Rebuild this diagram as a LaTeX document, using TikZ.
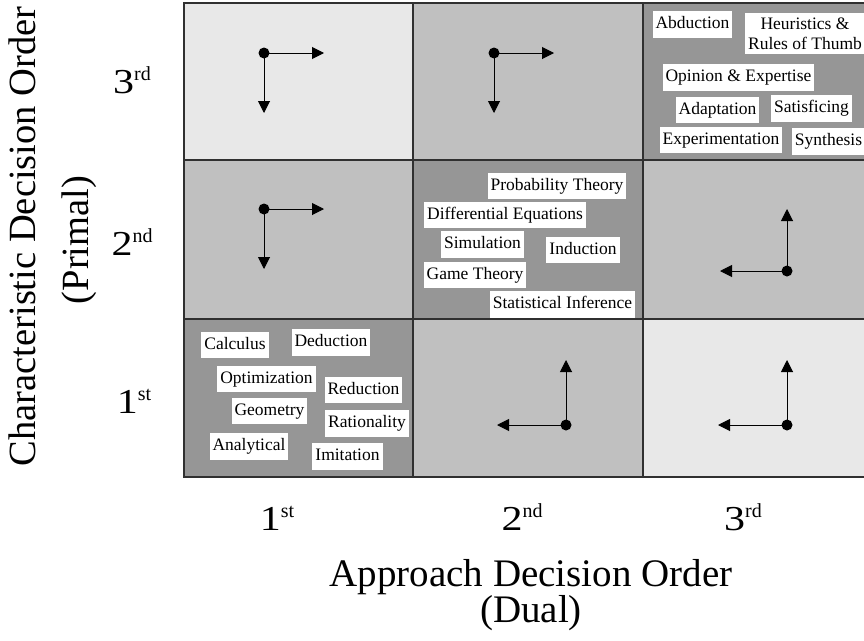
\documentclass[tikz,border=0pt]{standalone}
\usepackage{fontspec}
\setmainfont{Liberation Serif}
\usetikzlibrary{arrows.meta}
\definecolor{cLight}{HTML}{E8E8E8}
\definecolor{cMid}{HTML}{C0C0C0}
\definecolor{cDark}{HTML}{969696}
\definecolor{cLine}{HTML}{303030}
\newcommand\ordlab[2]{\scalebox{1.2}[1]{#1}\raisebox{13pt}{\fontsize{20}{20}\selectfont #2}}
\begin{document}
\begin{tikzpicture}[x=1pt,y=-1pt,
  cell/.style={draw=cLine, line width=1.6pt, inner sep=0pt, minimum width=#1},
  lab/.style={fill=white, inner xsep=3pt, inner ysep=5pt, text height=12.5pt, text depth=4pt,
              font=\fontsize{17.5}{20}\selectfont},
  lab2/.style={fill=white, inner xsep=3pt, inner ysep=5pt, align=center,
              font=\fontsize{17.5}{20}\selectfont},
  dotn/.style={circle, fill=black, inner sep=0pt, minimum size=11pt},
  arr/.style={line width=1pt, -{Triangle[length=12pt,width=12pt]}, shorten <=-2pt},
  tick/.style={anchor=base, font=\fontsize{35}{35}\selectfont, inner sep=0pt},
  title/.style={font=\fontsize{39}{33}\selectfont, inner sep=0pt}
]
\useasboundingbox (0,0) rectangle (864,640);
\fill[white] (0,0) rectangle (864,640);
\begin{scope}
\clip (0,0) rectangle (864,640);
% row 3 (top)
\node[cell=229pt, minimum height=157pt, fill=cLight] (c31) at (298.5,81.5) {};
\node[cell=230pt, minimum height=157pt, fill=cMid]   (c32) at (528,81.5) {};
\node[cell=230pt, minimum height=157pt, fill=cDark]  (c33) at (758,81.5) {};
% row 2
\node[cell=229pt, minimum height=159pt, fill=cMid]   (c21) at (298.5,239.5) {};
\node[cell=230pt, minimum height=159pt, fill=cDark]  (c22) at (528,239.5) {};
\node[cell=230pt, minimum height=159pt, fill=cMid]   (c23) at (758,239.5) {};
% row 1 (bottom)
\node[cell=229pt, minimum height=158pt, fill=cDark]  (c11) at (298.5,398) {};
\node[cell=230pt, minimum height=158pt, fill=cMid]   (c12) at (528,398) {};
\node[cell=230pt, minimum height=158pt, fill=cLight] (c13) at (758,398) {};

% arrows
\node[dotn] (d31) at (264,53) {};
\coordinate (d31r) at (324,53); \coordinate (d31d) at (264,113);
\draw[arr] (d31) -- (d31r); \draw[arr] (d31) -- (d31d);
\node[dotn] (d32) at (494,53) {};
\coordinate (d32r) at (554,53); \coordinate (d32d) at (494,113);
\draw[arr] (d32) -- (d32r); \draw[arr] (d32) -- (d32d);
\node[dotn] (d21) at (264,209) {};
\coordinate (d21r) at (324,209); \coordinate (d21d) at (264,269);
\draw[arr] (d21) -- (d21r); \draw[arr] (d21) -- (d21d);
\node[dotn] (d23) at (787,271) {};
\coordinate (d23u) at (787,209); \coordinate (d23l) at (720,271);
\draw[arr] (d23) -- (d23u); \draw[arr] (d23) -- (d23l);
\node[dotn] (d12) at (566,425) {};
\coordinate (d12u) at (566,360); \coordinate (d12l) at (497,425);
\draw[arr] (d12) -- (d12u); \draw[arr] (d12) -- (d12l);
\node[dotn] (d13) at (787,425) {};
\coordinate (d13u) at (787,360); \coordinate (d13l) at (718,425);
\draw[arr] (d13) -- (d13u); \draw[arr] (d13) -- (d13l);

% top-right labels
\node[lab] (abd) at (692.5,24.5) {Abduction};
\node[lab2] (heu) at (805,33.5) {Heuristics \&\\Rules of Thumb};
\node[lab] (opi) at (738.5,77.5) {Opinion \& Expertise};
\node[lab] (ada) at (717.5,110) {Adaptation};
\node[lab] (sat) at (811.5,108.5) {Satisficing};
\node[lab] (exp) at (721,140) {Experimentation};
\node[lab] (syn) at (828.5,141.5) {Synthesis};
\end{scope}

% centre labels
\node[lab] (pro) at (557,186) {Probability Theory};
\node[lab] (dif) at (505,215) {Differential Equations};
\node[lab] (sim) at (482.5,244.5) {Simulation};
\node[lab] (ind) at (583,250) {Induction};
\node[lab] (gam) at (475,275) {Game Theory};
\node[lab] (sta) at (562.5,304.5) {Statistical Inference};

% bottom-left labels
\node[lab] (cal) at (235,345) {Calculus};
\node[lab] (ded) at (331,342.5) {Deduction};
\node[lab] (opt) at (266.5,379) {Optimization};
\node[lab] (red) at (363.5,390) {Reduction};
\node[lab] (geo) at (269.5,411) {Geometry};
\node[lab] (rat) at (367,423.5) {Rationality};
\node[lab] (ana) at (249,446.5) {Analytical};
\node[lab] (imi) at (347.5,456.5) {Imitation};

% ticks
\node[tick] (x1) at (277,530) {\ordlab{1}{st}};
\node[tick] (x2) at (522,530) {\ordlab{2}{nd}};
\node[tick] (x3) at (743,530) {\ordlab{3}{rd}};
\node[tick] (y3) at (132,93) {\ordlab{3}{rd}};
\node[tick] (y2) at (132,255) {\ordlab{2}{nd}};
\node[tick] (y1) at (134,413) {\ordlab{1}{st}};

% titles
\node[title, anchor=north, align=center] (xt) at (531,559) {Approach Decision Order\\(Dual)};
\node[title, anchor=base, rotate=90, font=\fontsize{38.5}{38.5}\selectfont] (yt1) at (35,236.5) {Characteristic Decision Order};
\node[title, anchor=base, rotate=90, font=\fontsize{38.5}{38.5}\selectfont] (yt2) at (88,240) {(Primal)};
\end{tikzpicture}
\end{document}
